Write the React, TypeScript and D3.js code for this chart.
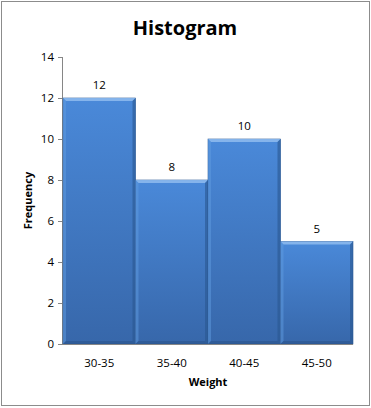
import React from "react";
import * as d3 from "d3";

const categories = ["30-35", "35-40", "40-45", "45-50"];
const frequencies = [12, 8, 10, 5];
const yTicks = [0, 2, 4, 6, 8, 10, 12, 14];

const W = 371;
const H = 408;
const margin = { left: 63, right: 18, top: 57, bottom: 64 };

export default function App() {
  const x = d3
    .scaleBand<string>()
    .domain(categories)
    .range([margin.left, W - margin.right])
    .padding(0);
  const y = d3.scaleLinear().domain([0, 14]).range([H - margin.bottom, margin.top]);
  const font = "Open Sans, Liberation Sans, sans-serif";
  const b = 3;
  return (
    <svg
      width={W}
      height={H}
      style={{ position: "absolute", left: 0, top: 0, background: "#fff" }}
      fontFamily={font}
    >
      <defs>
        <linearGradient id="barGrad" x1="0" y1="0" x2="0" y2="1">
          <stop offset="0%" stopColor="#4a89d9" />
          <stop offset="100%" stopColor="#3767aa" />
        </linearGradient>
      </defs>
      <rect x={1.5} y={1.5} width={W - 3} height={H - 4} fill="#fff" stroke="#8c8c8c" strokeWidth={1} />
      <text x={185} y={35} textAnchor="middle" fontSize={20} fontWeight="bold" fill="#000">
        Histogram
      </text>
      {/* y axis */}
      <line x1={margin.left - 0.5} x2={margin.left - 0.5} y1={y(14)} y2={y(0)} stroke="#868686" />
      {yTicks.map((t) => (
        <g key={t}>
          <line x1={margin.left - 5} x2={margin.left} y1={Math.round(y(t)) + 0.5} y2={Math.round(y(t)) + 0.5} stroke="#868686" />
          <text x={margin.left - 9} y={y(t) + 4} textAnchor="end" fontSize={11.5} fill="#000">
            {t}
          </text>
        </g>
      ))}
      {/* bars */}
      {categories.map((c, i) => {
        const x0 = x(c)!;
        const w = x.bandwidth();
        const yt = y(frequencies[i]);
        const yb = y(0);
        return (
          <g key={c}>
            <rect x={x0} y={yt} width={w} height={yb - yt} fill="url(#barGrad)" stroke="#2d5a96" strokeWidth={0.6} />
            <polygon
              points={`${x0},${yt} ${x0 + w},${yt} ${x0 + w - b},${yt + b} ${x0 + b},${yt + b}`}
              fill="#8fbcef"
              opacity={0.85}
            />
            <polygon
              points={`${x0},${yt} ${x0 + b},${yt + b} ${x0 + b},${yb - b} ${x0},${yb}`}
              fill="#5f9be0"
              opacity={0.5}
            />
            <polygon
              points={`${x0 + w},${yt} ${x0 + w - b},${yt + b} ${x0 + w - b},${yb - b} ${x0 + w},${yb}`}
              fill="#2a568f"
              opacity={0.6}
            />
            <polygon
              points={`${x0},${yb} ${x0 + b},${yb - b} ${x0 + w - b},${yb - b} ${x0 + w},${yb}`}
              fill="#284f85"
              opacity={0.5}
            />
            <text x={x0 + w / 2} y={yt - 9} textAnchor="middle" fontSize={11.5} fill="#000">
              {frequencies[i]}
            </text>
            <text x={x0 + w / 2} y={yb + 23} textAnchor="middle" fontSize={11.5} fill="#000">
              {c}
            </text>
          </g>
        );
      })}
      {/* x axis */}
      <line x1={margin.left - 5} x2={W - margin.right} y1={y(0) + 0.5} y2={y(0) + 0.5} stroke="#868686" />
      <text x={(margin.left + W - margin.right) / 2} y={386} textAnchor="middle" fontSize={11} fontWeight="bold" fill="#000">
        Weight
      </text>
      <text
        transform={`translate(32, ${(y(0) + y(14)) / 2}) rotate(-90)`}
        textAnchor="middle"
        fontSize={11}
        fontWeight="bold"
        fill="#000"
      >
        Frequency
      </text>
    </svg>
  );
}
